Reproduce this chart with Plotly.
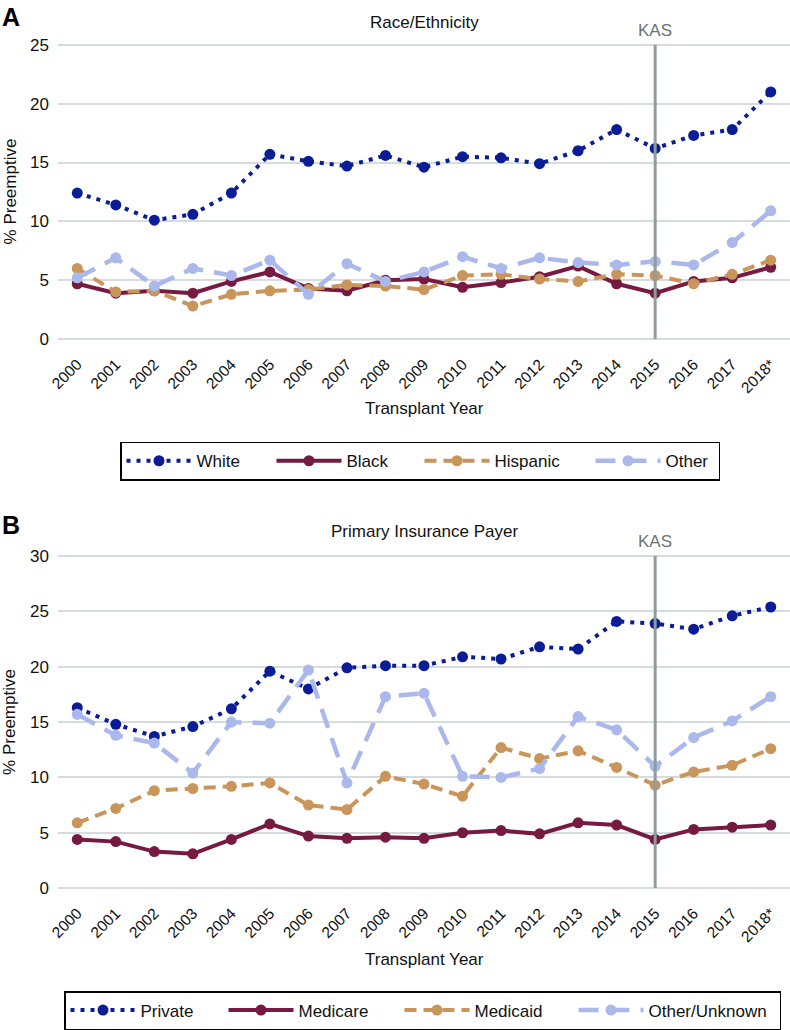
import plotly.graph_objects as go

# ---------------- data ----------------
years = ["2000", "2001", "2002", "2003", "2004", "2005", "2006", "2007", "2008", "2009",
         "2010", "2011", "2012", "2013", "2014", "2015", "2016", "2017", "2018*"]

race_names = ["White", "Black", "Hispanic", "Other"]
race_white = [12.4, 11.4, 10.1, 10.6, 12.4, 15.7, 15.1, 14.7, 15.6, 14.6, 15.5, 15.4, 14.9, 16.0, 17.8, 16.2, 17.3, 17.8, 21.0]
race_black = [4.7, 3.9, 4.1, 3.9, 4.9, 5.7, 4.3, 4.1, 5.0, 5.1, 4.4, 4.8, 5.3, 6.2, 4.7, 3.9, 4.9, 5.2, 6.1]
race_hispanic = [6.0, 4.0, 4.1, 2.8, 3.8, 4.1, 4.2, 4.6, 4.5, 4.2, 5.4, 5.5, 5.1, 4.9, 5.5, 5.4, 4.7, 5.5, 6.7]
race_other = [5.2, 6.9, 4.5, 6.0, 5.4, 6.7, 3.8, 6.4, 4.9, 5.7, 7.0, 6.0, 6.9, 6.5, 6.3, 6.6, 6.3, 8.2, 10.9]

payer_names = ["Private", "Medicare", "Medicaid", "Other/Unknown"]
payer_private = [16.3, 14.8, 13.7, 14.6, 16.2, 19.6, 18.0, 19.9, 20.1, 20.1, 20.9, 20.7, 21.8, 21.6, 24.1, 23.9, 23.4, 24.6, 25.4]
payer_medicare = [4.4, 4.2, 3.3, 3.1, 4.4, 5.8, 4.7, 4.5, 4.6, 4.5, 5.0, 5.2, 4.9, 5.9, 5.7, 4.4, 5.3, 5.5, 5.7]
payer_medicaid = [5.9, 7.2, 8.8, 9.0, 9.2, 9.5, 7.5, 7.1, 10.1, 9.4, 8.3, 12.7, 11.7, 12.4, 10.9, 9.3, 10.5, 11.1, 12.6]
payer_other = [15.7, 13.8, 13.1, 10.4, 15.0, 14.9, 19.7, 9.5, 17.3, 17.6, 10.1, 10.0, 10.8, 15.5, 14.3, 11.0, 13.6, 15.1, 17.3]

kas_year = "2015"

# ---------------- styles ----------------
W, H = 790, 1030
ML = 58
PW = W - ML
FONT = "Liberation Sans, Arial, Helvetica, sans-serif"

def px_x(p):
    return (p - ML) / PW

def px_y(p):
    return 1 - p / H

styles = [
    dict(color="#0b1d96", dash="4px,6px", width=4),
    dict(color="#761a42", dash="solid", width=4),
    dict(color="#c9955a", dash="12px,7px", width=4),
    dict(color="#aab8ec", dash="20px,11px", width=4.5),
]

fig = go.Figure()

race_series = [race_white, race_black, race_hispanic, race_other]
race_lw = [70, 68, 91, 48]
for name, vals, st, lw in zip(race_names, race_series, styles, race_lw):
    fig.add_trace(go.Scatter(
        x=years, y=vals, name=name, mode="lines+markers",
        line=dict(color=st["color"], dash=st["dash"], width=st["width"]),
        marker=dict(color=st["color"], size=11),
        xaxis="x", yaxis="y", legend="legend", legendwidth=lw,
    ))

payer_series = [payer_private, payer_medicare, payer_medicaid, payer_other]
payer_lw = [78, 96, 94, 126]
for name, vals, st, lw in zip(payer_names, payer_series, styles, payer_lw):
    fig.add_trace(go.Scatter(
        x=years, y=vals, name=name, mode="lines+markers",
        line=dict(color=st["color"], dash=st["dash"], width=st["width"]),
        marker=dict(color=st["color"], size=11),
        xaxis="x2", yaxis="y2", legend="legend2", legendwidth=lw,
    ))

grid = "#d5dcdf"
xcommon = dict(type="category", categoryorder="array", categoryarray=years,
               range=[-0.5, len(years) - 0.5], tickangle=-45, showgrid=False,
               zeroline=False, showline=False, ticks="", automargin=False,
               ticklabelstandoff=10,
               tickfont=dict(family=FONT, size=15.5, color="#111"))
ycommon = dict(showgrid=True, gridcolor=grid, gridwidth=1.5, zeroline=False,
               showline=False, ticks="", automargin=False, dtick=5,
               ticklabelstandoff=8,
               tickfont=dict(family=FONT, size=17, color="#111"))

kas_idx = years.index(kas_year)

leg_common = dict(orientation="h", xanchor="left", yanchor="top",
                  bordercolor="#000", borderwidth=1.5, bgcolor="white", itemwidth=65,
                  font=dict(family=FONT, size=17, color="#111"), traceorder="normal")

fig.update_layout(
    width=W, height=H,
    margin=dict(l=ML, r=0, t=0, b=0),
    paper_bgcolor="white", plot_bgcolor="white",
    font=dict(family=FONT, size=17, color="#111"),
    xaxis=dict(**xcommon, domain=[0, 1], anchor="y"),
    yaxis=dict(**ycommon, range=[-0.2, 25.2], domain=[px_y(342.4), px_y(42.6)], anchor="x"),
    xaxis2=dict(**xcommon, domain=[0, 1], anchor="y2"),
    yaxis2=dict(**ycommon, range=[-0.2, 30.2], domain=[px_y(892.9), px_y(555.5)], anchor="x2"),
    legend=dict(**leg_common, x=px_x(120), y=px_y(443)),
    legend2=dict(**leg_common, x=px_x(64), y=px_y(994)),
    showlegend=True,
)

# KAS vertical lines
for xr, yr, ytop in [("x", "y", 25), ("x2", "y2", 30)]:
    fig.add_shape(type="line", xref=xr, yref=yr, x0=kas_idx, x1=kas_idx, y0=0, y1=ytop,
                  line=dict(color="#8f9d9c", width=3), layer="above")
    fig.add_annotation(xref=xr, yref=yr, x=kas_idx, y=ytop, text="KAS", showarrow=False,
                       yanchor="bottom", yshift=3, font=dict(family=FONT, size=17, color="#6b7575"))

# titles, labels
ann = [
    dict(text="Race/Ethnicity", x=0.5, y=px_y(23)),
    dict(text="Primary Insurance Payer", x=0.5, y=px_y(533)),
    dict(text="Transplant Year", x=0.5, y=px_y(410)),
    dict(text="Transplant Year", x=0.5, y=px_y(962)),
]
for a in ann:
    fig.add_annotation(xref="paper", yref="paper", x=a["x"], y=a["y"], text=a["text"],
                       showarrow=False, xanchor="center", yanchor="middle",
                       font=dict(family=FONT, size=17, color="#111"))

for txt, yc in [("% Preemptive", 192), ("% Preemptive", 724)]:
    fig.add_annotation(xref="paper", yref="paper", x=px_x(10), y=px_y(yc), text=txt,
                       textangle=-90, showarrow=False, xanchor="center", yanchor="middle",
                       font=dict(family=FONT, size=17, color="#111"))

for txt, yc in [("<b>A</b>", 17), ("<b>B</b>", 527)]:
    fig.add_annotation(xref="paper", yref="paper", x=px_x(0), y=px_y(yc), text=txt,
                       showarrow=False, xanchor="left", yanchor="middle",
                       font=dict(family=FONT, size=25, color="#000"))

fig.write_html("out.html", config={"displayModeBar": False},
               post_script="document.body.style.margin='0px';")
